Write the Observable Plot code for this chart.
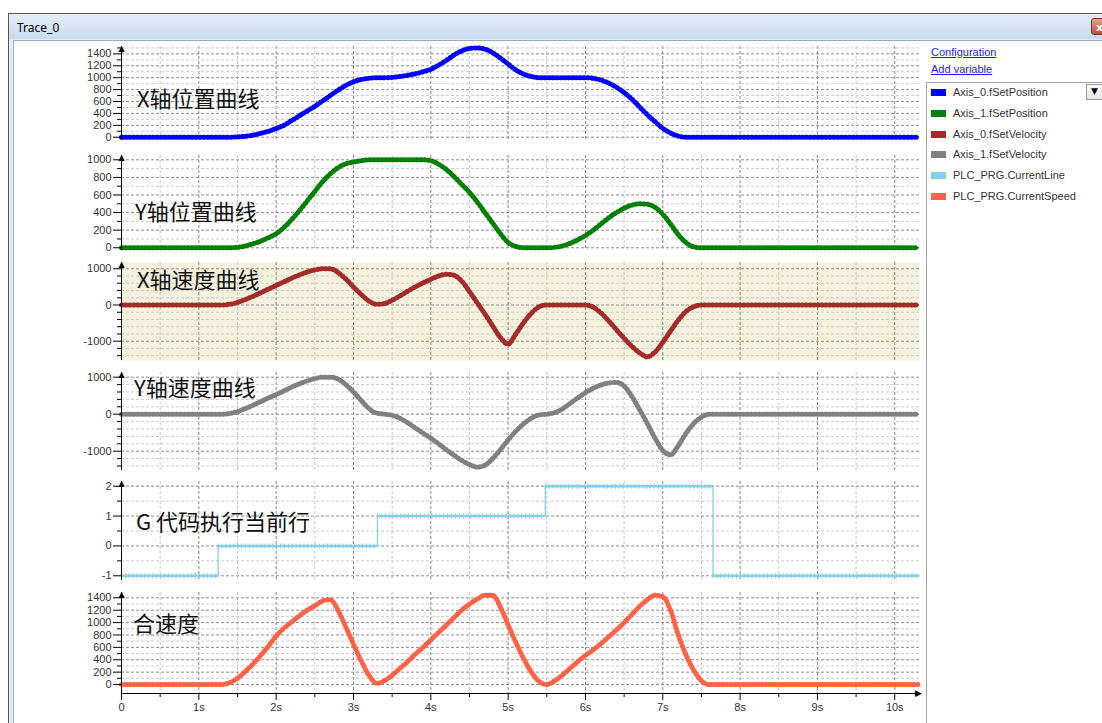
<!DOCTYPE html>
<html><head><meta charset="utf-8">
<script src="https://cdn.jsdelivr.net/npm/d3@7"></script>
<script src="https://cdn.jsdelivr.net/npm/@observablehq/plot@0.6"></script>
<style>
html,body{margin:0;padding:0;background:#fff;}
body{width:1102px;height:723px;overflow:hidden;position:relative;font-family:"Liberation Sans",Arial,sans-serif;}
#win{position:absolute;left:8px;top:13px;width:1200px;height:720px;border-top:1px solid #555;border-left:1px solid #555;background:#e4ecf6;}
#titlebar{position:absolute;left:9px;top:14px;width:1200px;height:25px;background:linear-gradient(#e3edf9,#c9dbef);}
#title{position:absolute;left:17px;top:19px;font:12px "Noto Sans",sans-serif;color:#000;}
#inner{position:absolute;left:13px;top:40px;width:1200px;height:700px;background:#fff;border-top:1px solid #9aa9bb;border-left:1px solid #9aa9bb;}
#close{position:absolute;left:1091px;top:18px;width:30px;height:17px;border:1px solid #7d3228;border-radius:3px;background:linear-gradient(#e9a292,#c54a38);color:#fff;font:bold 11px "DejaVu Sans";line-height:17px;padding-left:4px;box-sizing:border-box;}
.lbl{position:absolute;font-family:"Noto Sans CJK SC";font-size:22px;color:#111;line-height:22px;white-space:nowrap;}
.panel{position:absolute;left:0;}
.link{position:absolute;left:931px;font-size:11px;line-height:13px;color:#1c1cf0;text-decoration:underline;}
#legbox{position:absolute;left:926px;top:82px;width:200px;height:700px;border:1px solid #a3a3a3;background:#fff;}
.leg{position:absolute;left:953px;font-size:11px;line-height:13px;color:#333;white-space:nowrap;}
.sw{position:absolute;left:931px;width:15px;height:7px;}
#dd{position:absolute;left:1086px;top:84px;width:20px;height:16px;border:1px solid #9a9a9a;background:linear-gradient(#fafafa,#e6e6e6);box-sizing:border-box;}
#dd span{position:absolute;left:4px;top:1px;font-size:9px;color:#000;font-family:"DejaVu Sans";}
</style></head>
<body>
<div id="win"></div>
<div id="titlebar"></div>
<div id="title">Trace_0</div>
<div id="close">x</div>
<div id="inner"></div>
<div id="charts"></div>
<div id="side"></div>
<script>
// ---------------- data ----------------
const xMax = 10.32;
const sampleStep = 0.1;
const xMajorTicks = [0,1,2,3,4,5,6,7,8,9,10];
const xTickLabels = ["0","1s","2s","3s","4s","5s","6s","7s","8s","9s","10s"];
const xMinorTicks = [0.5,1.5,2.5,3.5,4.5,5.5,6.5,7.5,8.5,9.5];

// Axis_0.fSetPosition (sampled every 0.1 s from 0 to 10.3 s)
const axis0Position = [
  0,0,0,0,0,0,0,0,0,0,0,0,0,0,0,
  5,15,35,65,100,146,200,280,360,440,520,610,700,790,870,930,970,990,1000,1000,
  1005,1020,1040,1065,1100,1140,1210,1290,1380,1450,1490,1500,1480,1420,1330,1230,1130,1060,1020,1000,
  1000,1000,1000,1000,1000,1000,
  990,960,910,840,750,640,510,380,260,150,70,20,
  0,0,0,0,0,0,0,0,0,0,0,0,0,0,0,0,0,0,0,0,0,0,0,0,0,0,0,0,0,0,0
];
// Axis_1.fSetPosition
const axis1Position = [
  0,0,0,0,0,0,0,0,0,0,0,0,0,0,0,
  5,20,45,75,115,160,230,320,420,530,640,750,840,910,955,975,990,1000,
  1000,1000,1000,1000,1000,1000,1000,
  990,950,890,810,720,630,520,400,280,160,60,15,
  0,0,0,0,
  5,20,50,90,140,200,270,340,400,450,485,500,495,460,380,270,150,60,10,
  0,0,0,0,0,0,0,0,0,0,0,0,0,0,0,0,0,0,0,0,0,0,0,0,0,0,0,0,0
];
// Axis_0.fSetVelocity
const axis0Velocity = [
  0,0,0,0,0,0,0,0,0,0,0,0,0,0,
  20,70,150,240,340,440,540,640,740,830,910,970,1000,1000,900,720,500,290,110,20,
  40,130,250,380,500,610,710,800,850,820,660,370,60,-250,-580,-900,-1080,-800,-490,-230,-50,
  0,0,0,0,0,0,
  -60,-220,-440,-680,-920,-1140,-1320,-1430,-1300,-1030,-720,-420,-180,-50,
  0,0,0,0,0,0,0,0,0,0,0,0,0,0,0,0,0,0,0,0,0,0,0,0,0,0,0,0,0
];
// Axis_1.fSetVelocity
const axis1Velocity = [
  0,0,0,0,0,0,0,0,0,0,0,0,0,0,
  20,70,150,240,340,440,530,630,730,820,900,960,1000,1000,950,800,600,370,150,30,
  0,-30,-110,-230,-370,-510,-650,-800,-960,-1110,-1250,-1360,-1430,-1380,-1200,-960,-700,-460,-260,-110,-20,
  0,40,140,290,440,580,700,790,845,860,760,480,120,-250,-650,-980,-1100,-850,-520,-250,-80,
  0,0,0,0,0,0,0,0,0,0,0,0,0,0,0,0,0,0,0,0,0,0,0,0,0,0,0,0
];
// PLC_PRG.CurrentSpeed
const currentSpeed = [
  0,0,0,0,0,0,0,0,0,0,0,0,0,0,
  30,100,210,330,470,620,780,910,1010,1110,1200,1270,1350,1370,1200,930,650,380,150,20,
  60,150,260,370,490,600,720,840,960,1080,1200,1300,1380,1440,1440,1250,960,680,420,200,50,
  0,60,150,260,370,470,560,660,770,880,1000,1130,1260,1370,1440,1420,1200,800,480,230,60,
  0,0,0,0,0,0,0,0,0,0,0,0,0,0,0,0,0,0,0,0,0,0,0,0,0,0,0,0
];
// PLC_PRG.CurrentLine (step changes)
const lineChangeTimes = [0, 1.25, 3.31, 5.48, 7.65, 10.32];
const lineValues = [-1, 0, 1, 2, -1, -1];

const legendNames = ["Axis_0.fSetPosition","Axis_1.fSetPosition","Axis_0.fSetVelocity","Axis_1.fSetVelocity","PLC_PRG.CurrentLine","PLC_PRG.CurrentSpeed"];
const legendColors = ["#0000ff","#008000","#a52a2a","#808080","#87ceeb","#ff6347"];
const panelTitles = ["X轴位置曲线","Y轴位置曲线","X轴速度曲线","Y轴速度曲线","G 代码执行当前行","合速度"];

const p1Major = [0,200,400,600,800,1000,1200,1400];
const p1Minor = [100,300,500,700,900,1100,1300,1500];
const p2Major = [0,200,400,600,800,1000];
const p2Minor = [100,300,500,700,900];
const velMajor = [-1000,0,1000];
const velMinor = [-1400,-1200,-800,-600,-400,-200,200,400,600,800];
const p5Major = [-1,0,1,2];
const p5Minor = [-0.5,0.5,1.5];
const p6Major = [0,200,400,600,800,1000,1200,1400];
const p6Minor = [100,300,500,700,900,1100,1300];

// ---------------- build ----------------
const times = axis0Position.map((_, i) => Math.round(i * sampleStep * 10) / 10);
const rows = vals => vals.map((v, i) => ({t: times[i], v}));
const stepRows = lineChangeTimes.map((t, i) => ({t, v: lineValues[i]}));
const stepSegs = lineValues.slice(0, -1).map((v, i) => ({v, t0: lineChangeTimes[i], t1: lineChangeTimes[i + 1]}));

const tracedLine = (data, color) => [
  Plot.line(data, {x: "t", y: "v", stroke: color, strokeWidth: 2.2, curve: "monotone-x"}),
  Plot.line(data, {x: "t", y: "v", stroke: color, strokeWidth: 5, strokeDasharray: "1,2.9", curve: "monotone-x"})
];

const fmt = d => String(d);

const panels = [
  {top: 46, bottom: 140, domain: [-55, 1524], major: p1Major, minor: p1Minor, marks: tracedLine(rows(axis0Position), legendColors[0]), title: {left: 137, top: 86}},
  {top: 155, bottom: 250, domain: [-31, 1049], major: p2Major, minor: p2Minor, marks: tracedLine(rows(axis1Position), legendColors[1]), title: {left: 135, top: 199}},
  {top: 262, bottom: 360, domain: [-1533, 1174], major: velMajor, minor: velMinor, bg: "#f4f2dd", marks: tracedLine(rows(axis0Velocity), legendColors[2]), title: {left: 137, top: 267}},
  {top: 372, bottom: 470, domain: [-1522, 1127], major: velMajor, minor: velMinor, marks: tracedLine(rows(axis1Velocity), legendColors[3]), title: {left: 134, top: 375}},
  {top: 481, bottom: 580, domain: [-1.157, 2.157], major: p5Major, minor: p5Minor, marks: [
      Plot.line(stepRows, {x: "t", y: "v", stroke: legendColors[4], strokeWidth: 1.3, curve: "step-after"}),
      Plot.ruleY(stepSegs, {y: "v", x1: "t0", x2: "t1", stroke: legendColors[4], strokeWidth: 2.4}),
      Plot.ruleY(stepSegs, {y: "v", x1: "t0", x2: "t1", stroke: legendColors[4], strokeWidth: 5, strokeDasharray: "1,2.9"})
    ], title: {left: 136, top: 509}},
  {top: 592, bottom: 693, domain: [-145, 1486], major: p6Major, minor: p6Minor, marks: tracedLine(rows(currentSpeed), legendColors[5]), title: {left: 133, top: 611}, xAxis: true}
];

const charts = document.getElementById("charts");
panels.forEach((cfg, pi) => {
  const mt = 8, mb = cfg.xAxis ? 30 : 1;
  const height = cfg.bottom - cfg.top + mt + mb;
  const marks = [];
  if (cfg.bg) marks.push(Plot.frame({fill: cfg.bg, stroke: null}));
  marks.push(
    Plot.gridX(xMinorTicks, {stroke: "#c6c6c6", strokeOpacity: 1, strokeDasharray: "3,2"}),
    Plot.gridX(xMajorTicks.slice(1), {stroke: "#858585", strokeOpacity: 1, strokeDasharray: "3,2"}),
    Plot.gridY(cfg.minor, {stroke: "#cbcbcb", strokeOpacity: 1, strokeDasharray: "3,2"}),
    Plot.gridY(cfg.major, {stroke: "#8c8c8c", strokeOpacity: 1, strokeDasharray: "3,2"}),
    ...cfg.marks,
    Plot.axisY(cfg.minor, {tickSize: 4, tickFormat: () => "", stroke: "#000"}),
    Plot.axisY(cfg.major, {tickSize: 8, tickPadding: 2, tickFormat: fmt, stroke: "#000", fill: "#333", fontSize: 11}),
    Plot.ruleX([0], {stroke: "#000"}),
    Plot.text([{x: 0, y: cfg.domain[1]}], {x: "x", y: "y", text: () => "▲", fontSize: 8, dy: 2, fill: "#000", fontFamily: "DejaVu Sans"})
  );
  if (cfg.xAxis) {
    marks.push(
      Plot.axisX(xMinorTicks, {tickSize: 4, tickFormat: () => "", stroke: "#000"}),
      Plot.axisX(xMajorTicks, {tickSize: 7, tickPadding: 3, tickFormat: d => xTickLabels[xMajorTicks.indexOf(d)], stroke: "#000", fill: "#333", fontSize: 11}),
      Plot.ruleY([cfg.domain[0]], {stroke: "#000"}),
      Plot.text([{x: xMax, y: cfg.domain[0]}], {x: "x", y: "y", text: () => "▶", fontSize: 9, dx: -1, fill: "#000", fontFamily: "DejaVu Sans"})
    );
  }
  const svg = Plot.plot({
    width: 922, height,
    marginLeft: 121, marginRight: 3, marginTop: mt, marginBottom: mb,
    x: {domain: [0, xMax], axis: null},
    y: {domain: cfg.domain, axis: null},
    style: {fontFamily: "'Liberation Sans', Arial, sans-serif", fontSize: "11px", background: "transparent", overflow: "visible"},
    marks
  });
  const div = document.createElement("div");
  div.className = "panel";
  div.style.top = (cfg.top - mt) + "px";
  div.appendChild(svg);
  charts.appendChild(div);
  const lbl = document.createElement("div");
  lbl.className = "lbl";
  lbl.style.left = cfg.title.left + "px";
  lbl.style.top = cfg.title.top + "px";
  lbl.textContent = panelTitles[pi];
  charts.appendChild(lbl);
});

// ---------------- side pane ----------------
const side = document.getElementById("side");
side.innerHTML = `<div class="link" style="top:46px">Configuration</div>
<div class="link" style="top:63px">Add variable</div>
<div id="legbox"></div>
<div id="dd"><span>▼</span></div>`;
legendNames.forEach((name, i) => {
  const cy = 92.7 + 20.7 * i;
  const sw = document.createElement("div");
  sw.className = "sw";
  sw.style.top = (cy - 3.5) + "px";
  sw.style.background = legendColors[i];
  side.appendChild(sw);
  const t = document.createElement("div");
  t.className = "leg";
  t.style.top = (cy - 6.5) + "px";
  t.textContent = name;
  side.appendChild(t);
});
</script>
</body></html>
